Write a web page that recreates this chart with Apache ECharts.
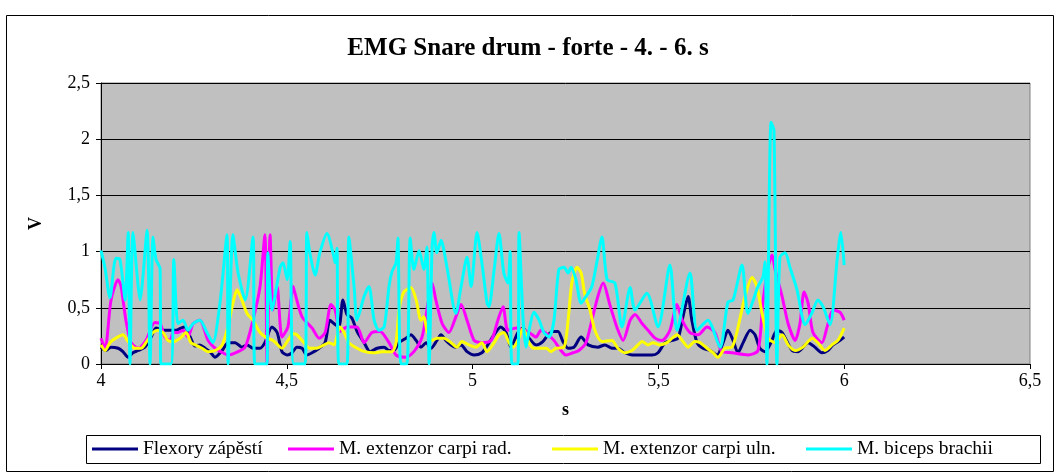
<!DOCTYPE html>
<html>
<head>
<meta charset="utf-8">
<script src="https://cdn.jsdelivr.net/npm/echarts@6/dist/echarts.min.js"></script>
<style>html,body{margin:0;padding:0;background:#fff}#c{width:1056px;height:473px}</style>
</head>
<body>
<div id="c"></div>
<script>
const chartTitle = 'EMG Snare drum - forte - 4. - 6. s';
const seriesNames = ['Flexory zápěstí', 'M. extenzor carpi rad.', 'M. extenzor carpi uln.', 'M. biceps brachii'];
const xTicks = [4, 4.5, 5, 5.5, 6, 6.5];
const yTicks = [0, 0.5, 1, 1.5, 2, 2.5];

const flexory = [[4.000,.15],[4.013,.12],[4.027,.15],[4.046,.14],[4.059,.11],[4.073,.06],[4.086,.10],[4.100,.12],[4.118,.15],[4.135,.24],[4.148,.32],[4.167,.30],[4.186,.30],[4.202,.30],[4.215,.32],[4.226,.33],[4.240,.24],[4.253,.16],[4.266,.17],[4.280,.14],[4.293,.11],[4.307,.06],[4.326,.12],[4.342,.19],[4.361,.19],[4.379,.15],[4.393,.17],[4.409,.14],[4.428,.14],[4.441,.19],[4.460,.33],[4.474,.28],[4.487,.11],[4.501,.08],[4.514,.10],[4.527,.15],[4.541,.14],[4.554,.08],[4.568,.10],[4.587,.14],[4.603,.19],[4.616,.39],[4.627,.36],[4.640,.33],[4.651,.57],[4.662,.44],[4.675,.41],[4.689,.29],[4.708,.19],[4.724,.11],[4.743,.14],[4.762,.15],[4.775,.12],[4.788,.12],[4.802,.19],[4.821,.23],[4.834,.26],[4.848,.21],[4.861,.15],[4.875,.19],[4.888,.14],[4.904,.21],[4.915,.26],[4.928,.21],[4.942,.17],[4.955,.15],[4.969,.17],[4.985,.11],[5.004,.08],[5.025,.10],[5.039,.16],[5.050,.22],[5.076,.33],[5.090,.28],[5.103,.15],[5.122,.28],[5.136,.32],[5.152,.23],[5.171,.17],[5.189,.20],[5.203,.26],[5.216,.29],[5.230,.29],[5.243,.20],[5.257,.14],[5.273,.15],[5.292,.24],[5.311,.17],[5.337,.15],[5.356,.17],[5.375,.14],[5.391,.14],[5.410,.10],[5.429,.08],[5.456,.08],[5.483,.08],[5.499,.10],[5.518,.19],[5.537,.21],[5.553,.23],[5.566,.42],[5.580,.60],[5.590,.39],[5.604,.19],[5.620,.14],[5.639,.12],[5.658,.08],[5.674,.19],[5.687,.30],[5.701,.21],[5.714,.10],[5.728,.19],[5.747,.30],[5.760,.26],[5.773,.14],[5.787,.11],[5.803,.19],[5.819,.30],[5.833,.28],[5.860,.12],[5.876,.11],[5.903,.19],[5.921,.15],[5.940,.10],[5.956,.12],[5.970,.17],[5.989,.21],[6.000,.24]];

const extRad = [[4.000,.23],[4.011,.14],[4.027,.57],[4.046,.75],[4.054,.69],[4.067,.39],[4.081,.19],[4.100,.14],[4.121,.21],[4.145,.37],[4.159,.36],[4.172,.24],[4.186,.21],[4.194,.28],[4.207,.28],[4.221,.30],[4.234,.24],[4.248,.36],[4.266,.39],[4.288,.21],[4.307,.14],[4.328,.10],[4.342,.08],[4.369,.11],[4.388,.15],[4.409,.39],[4.428,.69],[4.441,1.15],[4.447,0],[4.455,1.15],[4.463,.48],[4.474,.69],[4.487,.24],[4.503,.33],[4.517,.69],[4.522,.63],[4.541,.42],[4.568,.32],[4.587,.23],[4.603,.28],[4.619,.53],[4.630,.48],[4.643,.29],[4.662,.33],[4.689,.33],[4.708,.19],[4.729,.28],[4.751,.29],[4.775,.19],[4.794,.08],[4.821,.06],[4.842,.11],[4.864,.24],[4.880,.54],[4.891,.72],[4.901,.57],[4.918,.36],[4.936,.28],[4.955,.42],[4.969,.53],[4.985,.39],[5.004,.21],[5.023,.19],[5.050,.21],[5.068,.39],[5.082,.51],[5.095,.30],[5.117,.32],[5.136,.30],[5.152,.28],[5.171,.24],[5.184,.30],[5.203,.26],[5.219,.21],[5.238,.12],[5.251,.08],[5.270,.10],[5.286,.12],[5.305,.19],[5.321,.39],[5.337,.60],[5.351,.72],[5.370,.52],[5.389,.32],[5.405,.21],[5.424,.39],[5.437,.44],[5.456,.36],[5.472,.30],[5.491,.23],[5.510,.21],[5.531,.30],[5.550,.53],[5.564,.39],[5.585,.28],[5.607,.26],[5.631,.33],[5.652,.28],[5.671,.11],[5.698,.10],[5.741,.08],[5.768,.12],[5.781,.54],[5.795,.86],[5.806,.97],[5.814,.84],[5.833,.60],[5.849,.36],[5.868,.21],[5.881,.36],[5.892,.64],[5.903,.54],[5.916,.28],[5.940,.19],[5.954,.33],[5.970,.48],[5.989,.46],[6.000,.39]];

const extUln = [[4.000,.17],[4.011,.12],[4.024,.19],[4.040,.23],[4.059,.26],[4.073,.20],[4.091,.14],[4.108,.14],[4.121,.19],[4.140,.28],[4.153,.30],[4.167,.28],[4.180,.21],[4.194,.20],[4.213,.23],[4.229,.28],[4.242,.19],[4.253,.17],[4.272,.14],[4.288,.11],[4.307,.12],[4.326,.17],[4.339,.30],[4.353,.51],[4.366,.66],[4.379,.57],[4.393,.45],[4.409,.39],[4.428,.28],[4.447,.23],[4.463,.21],[4.487,.14],[4.503,.21],[4.517,.27],[4.527,.26],[4.546,.19],[4.562,.14],[4.581,.14],[4.600,.17],[4.614,.19],[4.627,.17],[4.643,.33],[4.654,.28],[4.667,.19],[4.689,.14],[4.710,.11],[4.735,.10],[4.756,.11],[4.783,.11],[4.794,.19],[4.802,.48],[4.815,.64],[4.834,.68],[4.848,.57],[4.861,.39],[4.869,.42],[4.877,.30],[4.891,.21],[4.904,.23],[4.923,.23],[4.942,.19],[4.958,.15],[4.971,.20],[4.990,.17],[5.009,.15],[5.025,.19],[5.039,.11],[5.058,.19],[5.071,.26],[5.084,.28],[5.098,.19],[5.109,.15],[5.122,.21],[5.136,.32],[5.149,.21],[5.163,.14],[5.198,.14],[5.211,.11],[5.224,.14],[5.246,.15],[5.257,.39],[5.267,.72],[5.281,.86],[5.292,.81],[5.302,.62],[5.316,.48],[5.329,.30],[5.348,.20],[5.375,.21],[5.391,.14],[5.410,.10],[5.429,.12],[5.445,.17],[5.456,.20],[5.472,.17],[5.486,.19],[5.504,.17],[5.523,.19],[5.537,.23],[5.550,.26],[5.564,.21],[5.580,.15],[5.598,.20],[5.612,.19],[5.631,.14],[5.647,.10],[5.660,.06],[5.679,.14],[5.698,.15],[5.711,.28],[5.733,.60],[5.752,.77],[5.765,.69],[5.779,.45],[5.795,.23],[5.814,.19],[5.833,.26],[5.849,.17],[5.868,.12],[5.889,.15],[5.914,.23],[5.929,.19],[5.948,.12],[5.967,.17],[5.983,.21],[6.000,.32]];

const biceps = [[4.000,1.01],[4.011,.85],[4.024,.59],[4.040,.94],[4.051,.93],[4.065,.57],[4.073,1.17],[4.078,0],[4.086,1.17],[4.100,.69],[4.105,.57],[4.124,1.19],[4.132,0],[4.140,1.13],[4.148,.93],[4.159,.85],[4.161,0],[4.188,0],[4.196,.93],[4.207,.36],[4.221,.39],[4.234,.30],[4.248,.36],[4.266,.39],[4.285,.28],[4.301,.19],[4.320,.54],[4.339,1.15],[4.342,0],[4.355,1.15],[4.369,.81],[4.388,.57],[4.409,1.13],[4.414,0],[4.447,0],[4.449,.99],[4.460,.48],[4.482,.86],[4.490,.90],[4.501,.75],[4.509,1.09],[4.519,0],[4.549,0],[4.554,1.17],[4.562,.99],[4.576,.79],[4.589,.99],[4.608,1.16],[4.627,.95],[4.630,.90],[4.635,1.03],[4.640,0],[4.662,0],[4.667,1.13],[4.681,.69],[4.689,.39],[4.708,.60],[4.721,.69],[4.735,.39],[4.748,.30],[4.762,.33],[4.775,.69],[4.783,.82],[4.794,.90],[4.799,1.12],[4.807,0],[4.823,0],[4.832,1.12],[4.842,.84],[4.856,1.01],[4.869,.84],[4.877,1.04],[4.883,0],[4.891,1.04],[4.896,1.17],[4.904,.99],[4.915,1.10],[4.931,.86],[4.955,.45],[4.969,.69],[4.985,.95],[4.996,.69],[5.012,1.17],[5.025,.90],[5.039,.54],[5.044,.51],[5.058,.84],[5.071,1.16],[5.084,.81],[5.095,.72],[5.101,1.00],[5.106,0],[5.122,0],[5.125,1.17],[5.136,.39],[5.144,.15],[5.152,.30],[5.165,.46],[5.179,.39],[5.192,.28],[5.206,.24],[5.219,.39],[5.232,.84],[5.246,.86],[5.257,.81],[5.265,.86],[5.278,.75],[5.292,.54],[5.305,.60],[5.321,.69],[5.334,.90],[5.348,1.13],[5.362,.75],[5.383,.72],[5.402,.33],[5.424,.68],[5.437,.48],[5.469,.63],[5.499,.33],[5.531,.88],[5.550,.30],[5.585,.81],[5.604,.30],[5.633,.39],[5.666,.15],[5.687,.55],[5.701,.57],[5.725,.88],[5.741,.45],[5.768,.69],[5.781,.77],[5.787,.91],[5.792,0],[5.803,2.15],[5.811,2.08],[5.819,0],[5.827,.95],[5.841,.99],[5.854,.86],[5.873,.66],[5.895,.35],[5.914,.46],[5.929,.57],[5.943,.51],[5.962,.35],[5.981,.93],[5.991,1.17],[6.000,.88]];

const seriesData = [flexory, extRad, extUln, biceps];
const colors = ['#000080', '#FF00FF', '#FFFF00', '#00FFFF'];
const legendLefts = [92, 288, 552, 806];
const FONT = 'Liberation Serif';
const fmt = v => String(v).replace('.', ',');

const chart = echarts.init(document.getElementById('c'), null, {renderer: 'canvas'});
chart.setOption({
  animation: false,
  backgroundColor: '#ffffff',
  title: {
    text: chartTitle, left: 'center', top: 31,
    textStyle: {fontFamily: FONT, fontWeight: 'bold', fontSize: 25, color: '#000'}
  },
  graphic: [{
    type: 'rect', left: 4, top: 13, silent: true, z: -1,
    shape: {width: 1047, height: 456},
    style: {fill: 'none', stroke: '#000', lineWidth: 1}
  }, {
    type: 'rect', left: 86, top: 435, silent: true, z: -1,
    shape: {width: 954, height: 28},
    style: {fill: '#fff', stroke: '#000', lineWidth: 1}
  }],
  legend: seriesNames.map((n, i) => ({
    data: [n], left: legendLefts[i], top: 439, padding: 0,
    itemWidth: 46, itemHeight: 3, icon: 'rect',
    textStyle: {fontFamily: FONT, fontSize: 19.5, color: '#000'}
  })),
  grid: {
    left: 101, right: 26, top: 83, bottom: 109, show: true,
    backgroundColor: '#C0C0C0', borderColor: '#808080', borderWidth: 1
  },
  xAxis: {
    type: 'value', min: xTicks[0], max: xTicks[xTicks.length - 1], interval: 0.5,
    name: 's', nameLocation: 'middle', nameGap: 37,
    nameTextStyle: {fontFamily: FONT, fontWeight: 'bold', fontSize: 18, color: '#000'},
    axisLine: {show: true, onZero: false, lineStyle: {color: '#000', width: 1}},
    axisTick: {show: true, length: 5, lineStyle: {color: '#000'}},
    axisLabel: {formatter: fmt, margin: 8, fontFamily: FONT, fontSize: 18, color: '#000'},
    splitLine: {show: false}
  },
  yAxis: {
    type: 'value', min: yTicks[0], max: yTicks[yTicks.length - 1], interval: 0.5,
    name: 'V', nameLocation: 'middle', nameGap: 56, nameRotate: 90,
    nameTextStyle: {fontFamily: FONT, fontWeight: 'bold', fontSize: 18, color: '#000'},
    axisLine: {show: true, lineStyle: {color: '#000', width: 1}},
    axisTick: {show: true, length: 5, lineStyle: {color: '#000'}},
    axisLabel: {formatter: fmt, margin: 11, fontFamily: FONT, fontSize: 18, color: '#000'},
    splitLine: {show: true, lineStyle: {color: '#000', width: 1}}
  },
  series: seriesData.map((d, i) => ({
    name: seriesNames[i], type: 'line', data: d,
    smooth: 0.25, showSymbol: false, symbol: 'none',
    lineStyle: {color: colors[i], width: 3},
    itemStyle: {color: colors[i]},
    z: 2 + i
  }))
});
</script>
</body>
</html>
